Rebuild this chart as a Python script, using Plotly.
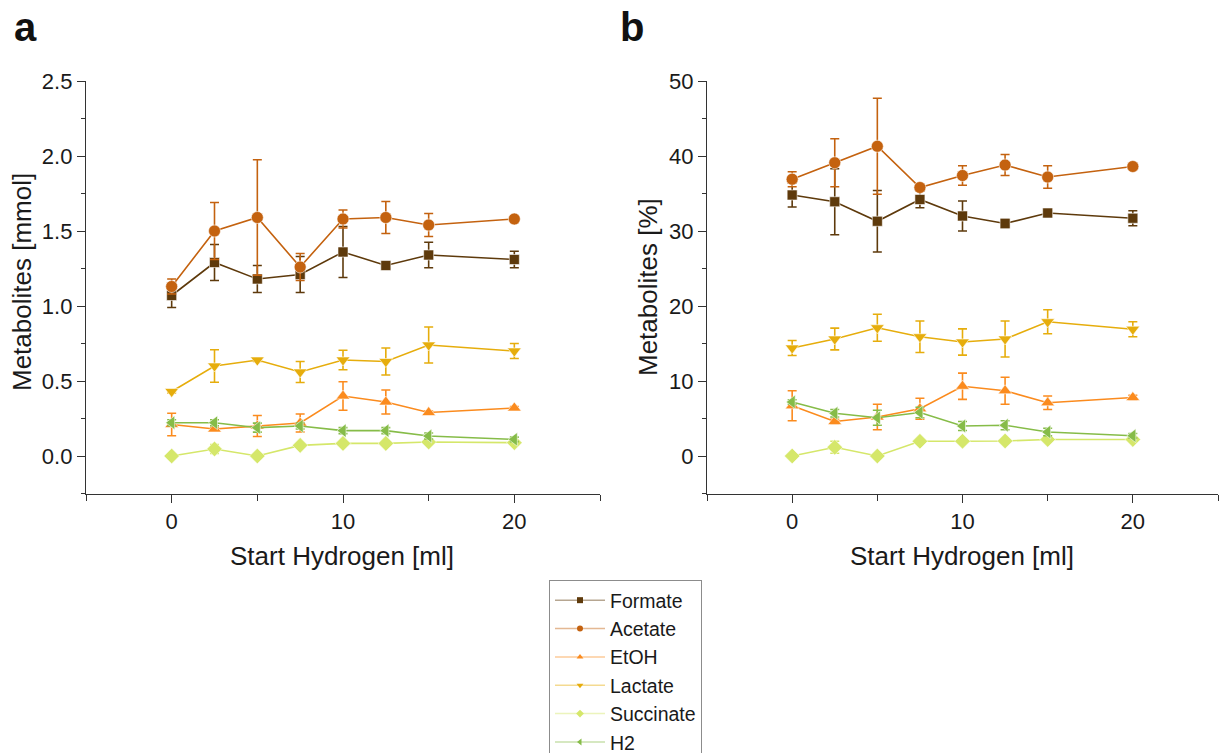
import plotly.graph_objects as go

# Start hydrogen volumes (ml)
start_h2 = [0, 2.5, 5, 7.5, 10, 12.5, 15, 20]

names = ["Formate", "Acetate", "EtOH", "Lactate", "Succinate", "H2"]
colors = ["#5e3a0c", "#c4620f", "#fb8b1e", "#e6ad0c", "#d5e76a", "#86bc48"]
symbols = ["square", "circle", "triangle-up", "triangle-down", "diamond", "triangle-left"]
sizes = [10, 12, 12, 12, 12, 12]

# Panel a: metabolites in mmol (mean and standard deviation)
formate_mmol = [1.07, 1.29, 1.18, 1.21, 1.36, 1.27, 1.34, 1.31]
formate_mmol_sd = [0.08, 0.12, 0.09, 0.12, 0.17, 0.02, 0.085, 0.055]
acetate_mmol = [1.13, 1.50, 1.59, 1.26, 1.58, 1.59, 1.54, 1.58]
acetate_mmol_sd = [0.05, 0.19, 0.385, 0.09, 0.06, 0.107, 0.077, 0.02]
etoh_mmol = [0.21, 0.18, 0.20, 0.22, 0.40, 0.36, 0.29, 0.32]
etoh_mmol_sd = [0.075, 0.01, 0.07, 0.06, 0.095, 0.08, 0.01, 0.01]
lactate_mmol = [0.43, 0.60, 0.64, 0.56, 0.64, 0.63, 0.74, 0.70]
lactate_mmol_sd = [0.01, 0.108, 0.01, 0.07, 0.065, 0.09, 0.12, 0.05]
succinate_mmol = [0.0, 0.047, 0.0, 0.071, 0.084, 0.084, 0.093, 0.089]
succinate_mmol_sd = [0.0, 0.03, 0.0, 0.0, 0.0, 0.0, 0.0, 0.0]
h2_mmol = [0.222, 0.222, 0.189, 0.20, 0.169, 0.169, 0.133, 0.111]
h2_mmol_sd = [0.02, 0.02, 0.03, 0.02, 0.02, 0.02, 0.02, 0.015]

# Panel b: metabolites in percent of total
formate_pct = [34.8, 33.9, 31.3, 34.2, 32.0, 31.0, 32.4, 31.7]
formate_pct_sd = [1.6, 4.4, 4.1, 1.1, 2.0, 0.6, 0.3, 1.0]
acetate_pct = [36.9, 39.1, 41.3, 35.8, 37.4, 38.8, 37.2, 38.6]
acetate_pct_sd = [1.0, 3.2, 6.4, 0.4, 1.3, 1.4, 1.5, 0.3]
etoh_pct = [6.7, 4.6, 5.2, 6.3, 9.3, 8.7, 7.1, 7.8]
etoh_pct_sd = [2.0, 0.3, 1.7, 1.4, 1.75, 1.8, 0.9, 0.3]
lactate_pct = [14.4, 15.6, 17.1, 15.9, 15.2, 15.6, 17.9, 16.9]
lactate_pct_sd = [1.0, 1.45, 1.8, 2.1, 1.75, 2.4, 1.6, 1.0]
succinate_pct = [0.0, 1.16, 0.0, 1.96, 1.96, 2.0, 2.2, 2.2]
succinate_pct_sd = [0.0, 0.8, 0.0, 0.0, 0.0, 0.0, 0.0, 0.0]
h2_pct = [7.2, 5.7, 5.1, 5.8, 4.0, 4.1, 3.2, 2.7]
h2_pct_sd = [0.3, 0.5, 1.0, 0.7, 0.6, 0.6, 0.5, 0.3]

panel_a = [(formate_mmol, formate_mmol_sd), (acetate_mmol, acetate_mmol_sd),
           (etoh_mmol, etoh_mmol_sd), (lactate_mmol, lactate_mmol_sd),
           (succinate_mmol, succinate_mmol_sd), (h2_mmol, h2_mmol_sd)]
panel_b = [(formate_pct, formate_pct_sd), (acetate_pct, acetate_pct_sd),
           (etoh_pct, etoh_pct_sd), (lactate_pct, lactate_pct_sd),
           (succinate_pct, succinate_pct_sd), (h2_pct, h2_pct_sd)]

W, H = 1220, 753
FONT = "Liberation Sans, Arial, sans-serif"


def px_x(p):
    return p / W


def px_y(p):
    return 1 - p / H


def rgba(hex_color, a):
    h = hex_color.lstrip("#")
    r, g, b = int(h[0:2], 16), int(h[2:4], 16), int(h[4:6], 16)
    return f"rgba({r},{g},{b},{a})"


fig = go.Figure()

for xa, ya, series in (("x", "y", panel_a), ("x2", "y2", panel_b)):
    for name, color, sym, size, (vals, sd) in zip(names, colors, symbols, sizes, series):
        fig.add_trace(go.Scatter(
            x=start_h2, y=vals, name=name, mode="lines+markers",
            xaxis=xa, yaxis=ya, showlegend=False,
            line=dict(color=color, width=1.6),
            marker=dict(symbol=sym, size=size, color=color,
                        line=dict(color="rgba(255,255,255,0.7)", width=0.8)),
            error_y=dict(type="data", array=sd, visible=True, color=color,
                         thickness=1.6, width=4.5),
        ))

# Legend entries with small markers and pale connecting lines
for name, color, sym in zip(names, colors, symbols):
    fig.add_trace(go.Scatter(
        x=[None], y=[None], name=name, mode="lines+markers",
        line=dict(color=rgba(color, 0.45), width=1.5),
        marker=dict(symbol=sym, size=6, color=color),
        showlegend=True,
    ))

y_dom = [px_y(493.5), px_y(81)]
tick_font = dict(family=FONT, size=22, color="#1a1a1a")
axis_common = dict(
    showline=True, linecolor="#333333", linewidth=1.3,
    ticks="outside", tickcolor="#333333", tickwidth=1.3, ticklen=8,
    showgrid=False, zeroline=False, tickfont=tick_font, mirror=False,
    automargin=False,
)

fig.update_layout(
    width=W, height=H,
    margin=dict(l=0, r=0, t=0, b=0, autoexpand=False),
    paper_bgcolor="white", plot_bgcolor="white",
    font=dict(family=FONT, color="#1a1a1a"),
    xaxis=dict(domain=[px_x(86), px_x(600)], range=[-5, 25], anchor="y",
               tick0=0, dtick=10,
               minor=dict(dtick=5, tick0=0, ticks="outside", ticklen=6,
                          tickcolor="#333333", tickwidth=1.3),
               **axis_common),
    yaxis=dict(domain=y_dom, range=[-0.25, 2.5], anchor="x",
               tick0=0, dtick=0.5, tickformat=".1f",
               minor=dict(dtick=0.25, tick0=0, ticks="outside", ticklen=4,
                          tickcolor="#333333", tickwidth=1.3),
               **axis_common),
    xaxis2=dict(domain=[px_x(707), px_x(1218)], range=[-5, 25], anchor="y2",
                tick0=0, dtick=10,
                minor=dict(dtick=5, tick0=0, ticks="outside", ticklen=6,
                           tickcolor="#333333", tickwidth=1.3),
                **axis_common),
    yaxis2=dict(domain=y_dom, range=[-5, 50], anchor="x2",
                tick0=0, dtick=10,
                minor=dict(dtick=5, tick0=0, ticks="outside", ticklen=4,
                           tickcolor="#333333", tickwidth=1.3),
                **axis_common),
    legend=dict(
        x=px_x(549), y=px_y(580), xanchor="left", yanchor="top",
        bgcolor="white", bordercolor="#8c8c8c", borderwidth=1,
        font=dict(family=FONT, size=19.5, color="#1a1a1a"),
        itemwidth=50, tracegroupgap=0,
    ),
)

title_font = dict(family=FONT, size=26, color="#1a1a1a")
annotations = [
    dict(text="<b>a</b>", x=px_x(12), y=px_y(27), xanchor="left", yanchor="middle",
         font=dict(family=FONT, size=40, color="#111111")),
    dict(text="<b>b</b>", x=px_x(618), y=px_y(27), xanchor="left", yanchor="middle",
         font=dict(family=FONT, size=40, color="#111111")),
    dict(text="Metabolites [mmol]", x=px_x(22), y=px_y(282), textangle=-90,
         xanchor="center", yanchor="middle", font=title_font),
    dict(text="Metabolites [%]", x=px_x(648), y=px_y(287), textangle=-90,
         xanchor="center", yanchor="middle", font=title_font),
    dict(text="Start Hydrogen [ml]", x=px_x(342), y=px_y(556),
         xanchor="center", yanchor="middle", font=title_font),
    dict(text="Start Hydrogen [ml]", x=px_x(962), y=px_y(556),
         xanchor="center", yanchor="middle", font=title_font),
]
for a in annotations:
    a.update(xref="paper", yref="paper", showarrow=False)
fig.update_layout(annotations=annotations)

fig.write_html("out.html")
